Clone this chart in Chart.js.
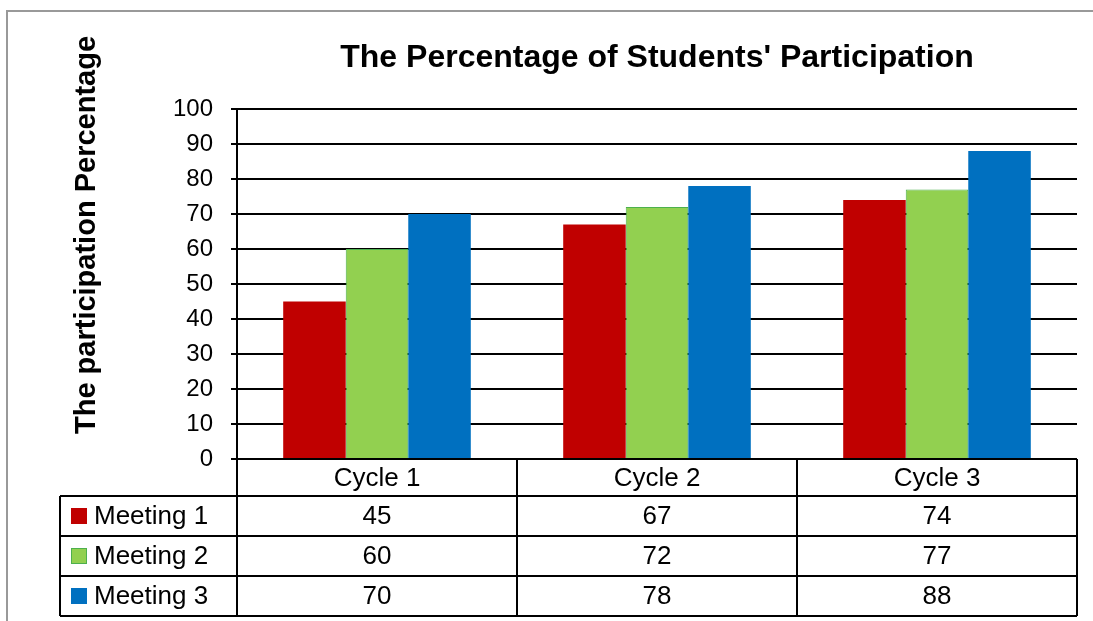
<!DOCTYPE html>
<html>
<head>
<meta charset="utf-8">
<script src="https://cdn.jsdelivr.net/npm/chart.js@4"></script>
<style>
  body { margin: 0; background: #fff; }
  canvas { display: block; }
</style>
</head>
<body>
<canvas id="chart" width="1093" height="621"></canvas>
<script>
const cycles = ["Cycle 1", "Cycle 2", "Cycle 3"];
const meeting1 = [45, 67, 74];
const meeting2 = [60, 72, 77];
const meeting3 = [70, 78, 88];
const seriesNames = ["Meeting 1", "Meeting 2", "Meeting 3"];
const yTicks = [0, 10, 20, 30, 40, 50, 60, 70, 80, 90, 100];

const FONT = "'Liberation Sans', Arial, sans-serif";

// draws the frame, title, y title and the data table under the plot
const tablePlugin = {
  id: "dataTable",
  beforeDraw(chart) {
    const c = chart.ctx;
    c.save();
    c.strokeStyle = "#999";
    c.lineWidth = 2;
    c.beginPath();
    c.moveTo(7, 621);
    c.lineTo(7, 11);
    c.lineTo(1093, 11);
    c.stroke();
    c.restore();
  },
  afterDraw(chart) {
    const c = chart.ctx;
    const area = chart.chartArea;
    const x = chart.scales.x;
    c.save();

    // title
    c.fillStyle = "#000";
    c.font = "bold 32px " + FONT;
    c.textAlign = "center";
    c.textBaseline = "middle";
    c.fillText("The Percentage of Students' Participation", (area.left + area.right) / 2, 58);

    // y title
    c.save();
    c.translate(87, 235);
    c.rotate(-Math.PI / 2);
    c.font = "bold 29px " + FONT;
    c.fillText("The participation Percentage", 0, 0);
    c.restore();

    // table geometry
    const tableLeft = 60;
    const headTop = area.bottom;
    const headBottom = headTop + 37;
    const rowH = 40;
    const rows = chart.data.datasets.length;
    const tableBottom = headBottom + rowH * rows;

    const bounds = [area.left];
    for (let i = 0; i < cycles.length - 1; i++) {
      bounds.push((x.getPixelForValue(i) + x.getPixelForValue(i + 1)) / 2);
    }
    bounds.push(area.right);

    c.strokeStyle = "#000";
    c.lineWidth = 2;
    c.beginPath();
    bounds.forEach((bx) => {
      c.moveTo(bx, headTop);
      c.lineTo(bx, tableBottom);
    });
    c.moveTo(tableLeft, headBottom);
    c.lineTo(tableLeft, tableBottom);
    c.moveTo(area.left, headTop);
    c.lineTo(area.right, headTop);
    for (let r = 0; r <= rows; r++) {
      const y = headBottom + r * rowH;
      c.moveTo(tableLeft, y);
      c.lineTo(area.right, y);
    }
    c.stroke();

    c.font = "26px " + FONT;
    c.fillStyle = "#000";
    c.textAlign = "center";
    cycles.forEach((label, i) => {
      c.fillText(label, x.getPixelForValue(i), (headTop + headBottom) / 2 + 1);
    });

    chart.data.datasets.forEach((ds, r) => {
      const yMid = headBottom + r * rowH + rowH / 2;
      // legend key
      c.fillStyle = ds.backgroundColor;
      c.fillRect(71, yMid - 8, 16, 16);
      if (ds.borderWidth) {
        c.strokeStyle = ds.borderColor;
        c.lineWidth = 1;
        c.strokeRect(71.5, yMid - 7.5, 15, 15);
      }
      c.fillStyle = "#000";
      c.textAlign = "left";
      c.fillText(ds.label, 94, yMid + 1);
      c.textAlign = "center";
      ds.data.forEach((v, i) => {
        c.fillText(String(v), x.getPixelForValue(i), yMid + 1);
      });
    });

    c.restore();
  },
};

new Chart(document.getElementById("chart"), {
  type: "bar",
  data: {
    labels: cycles,
    datasets: [
      {
        label: seriesNames[0],
        data: meeting1,
        backgroundColor: "#C00000",
        borderWidth: 0,
      },
      {
        label: seriesNames[1],
        data: meeting2,
        backgroundColor: "#92D050",
        borderColor: "#4DB04D",
        borderWidth: 1,
      },
      {
        label: seriesNames[2],
        data: meeting3,
        backgroundColor: "#0070C0",
        borderWidth: 0,
      },
    ],
  },
  options: {
    responsive: false,
    animation: false,
    layout: { padding: { left: 0, top: 109, right: 16, bottom: 162 } },
    datasets: {
      bar: { categoryPercentage: 0.67, barPercentage: 1.0 },
    },
    plugins: {
      legend: { display: false },
      title: { display: false },
      tooltip: { enabled: false },
    },
    scales: {
      x: { display: false },
      y: {
        min: yTicks[0],
        max: yTicks[yTicks.length - 1],
        afterBuildTicks: (scale) => {
          scale.ticks = yTicks.map((v) => ({ value: v }));
        },
        afterFit: (scale) => {
          scale.width = 237;
        },
        grid: {
          color: "#000",
          lineWidth: 2,
          tickLength: 6,
        },
        border: { color: "#000", width: 2 },
        ticks: {
          color: "#000",
          padding: 18,
          font: { family: FONT, size: 24 },
        },
      },
    },
  },
  plugins: [tablePlugin],
});
</script>
</body>
</html>
